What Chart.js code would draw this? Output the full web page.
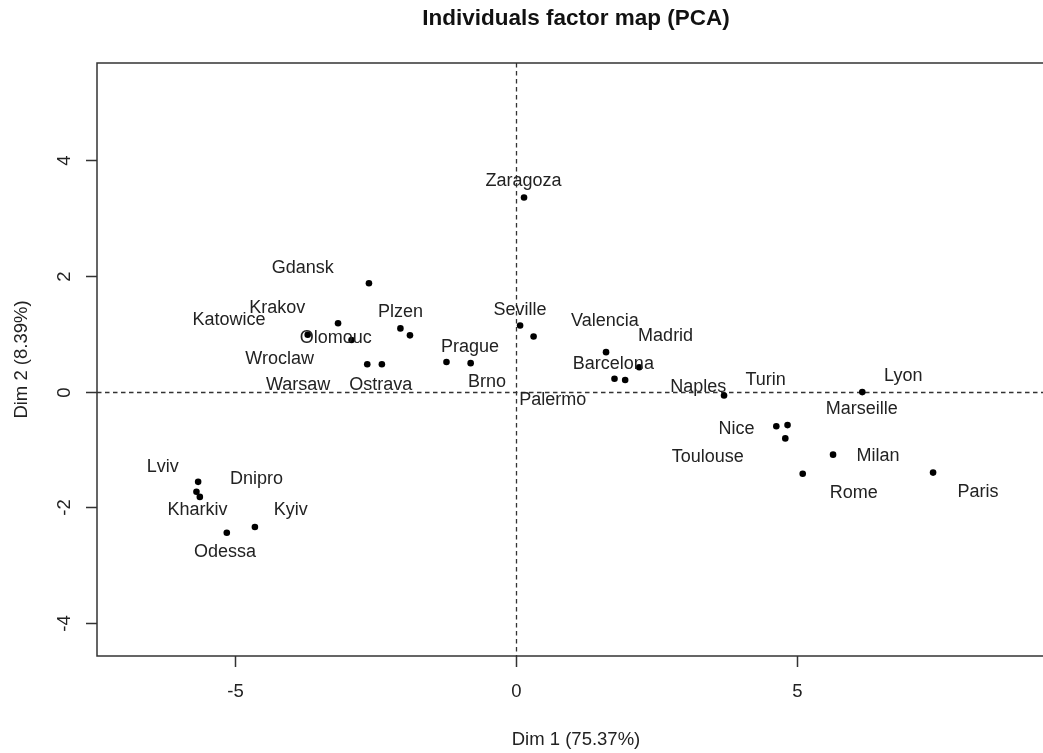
<!DOCTYPE html>
<html>
<head>
<meta charset="utf-8">
<script src="https://cdn.jsdelivr.net/npm/chart.js@4.4.1/dist/chart.umd.min.js"></script>
<style>
  html, body { margin:0; padding:0; background:#fff; overflow:hidden; }
  #wrap { width:1070px; height:753px; }
</style>
</head>
<body>
<div id="wrap"><canvas id="chart1" width="1070" height="753"></canvas></div>
<script>
var ciudades = ["Paris","Lyon","Marseille","Milan","Rome","Naples","Turin","Nice","Toulouse",
  "Zaragoza","Seville","Palermo","Prague","Brno","Valencia","Madrid","Barcelona",
  "Gdansk","Krakov","Katowice","Olomouc","Plzen","Ostrava","Wroclaw","Warsaw",
  "Lviv","Kharkiv","Dnipro","Kyiv","Odessa"];
var dim1 = [7.43, 6.17, 1.95, 5.65, 5.11, 3.71, 4.64, 4.80, 4.84,
  0.15, 0.08, 0.32, -1.23, -0.80, 1.61, 2.20, 1.76,
  -2.61, -3.16, -3.70, -2.92, -2.05, -1.88, -2.64, -2.38,
  -5.65, -5.68, -5.62, -4.64, -5.14];
var dim2 = [-1.40, -0.01, 0.20, -1.09, -1.42, -0.07, -0.60, -0.81, -0.58,
  3.35, 1.14, 0.95, 0.51, 0.49, 0.68, 0.42, 0.22,
  1.87, 1.18, 0.98, 0.89, 1.09, 0.97, 0.47, 0.47,
  -1.56, -1.73, -1.82, -2.34, -2.44];
// where the labels sit (data units)
var etiqX = [8.23, 6.90, 6.16, 6.45, 6.02, 3.25, 4.45, 3.93, 3.42,
  0.14, 0.08, 0.66, -0.81, -0.51, 1.59, 2.67, 1.74,
  -3.79, -4.24, -5.10, -3.20, -2.05, -2.40, -4.20, -3.87,
  -6.28, -5.66, -4.61, -4.00, -5.17];
var etiqY = [-1.73, 0.27, -0.31, -1.11, -1.75, 0.08, 0.19, -0.65, -1.13,
  3.64, 1.41, -0.14, 0.77, 0.17, 1.21, 0.95, 0.48,
  2.13, 1.44, 1.24, 0.92, 1.37, 0.12, 0.56, 0.12,
  -1.30, -2.05, -1.51, -2.05, -2.77];
var ticksX = [-5, 0, 5];
var ticksY = [-4, -2, 0, 2, 4];
var tituloX = "Dim 1 (75.37%)";
var tituloY = "Dim 2 (8.39%)";
var titulo = "Individuals factor map (PCA)";

var fuente = "'Liberation Sans', Arial, sans-serif";

var puntos = [];
for (var i = 0; i < ciudades.length; i++) {
  puntos.push({x: dim1[i], y: dim2[i]});
}

var dibujoExtra = {
  id: "dibujoExtra",
  beforeDatasetsDraw: function(chart) {
    var ctx = chart.ctx, a = chart.chartArea;
    var sx = chart.scales.x, sy = chart.scales.y;
    ctx.save();
    ctx.strokeStyle = "#333";
    ctx.lineWidth = 1.3;
    ctx.setLineDash([4.5, 3.5]);
    var x0 = Math.round(sx.getPixelForValue(0)) + 0.5;
    var y0 = Math.round(sy.getPixelForValue(0)) + 0.5;
    ctx.beginPath();
    ctx.moveTo(a.left, y0); ctx.lineTo(a.right, y0);
    ctx.moveTo(x0, a.top); ctx.lineTo(x0, a.bottom);
    ctx.stroke();
    ctx.restore();
  },
  afterDraw: function(chart) {
    var ctx = chart.ctx, a = chart.chartArea;
    var sx = chart.scales.x, sy = chart.scales.y;
    ctx.save();
    ctx.strokeStyle = "#333";
    ctx.lineWidth = 1.5;
    ctx.strokeRect(a.left, a.top, a.right - a.left, a.bottom - a.top);

    ctx.fillStyle = "#222";
    ctx.font = "18.5px " + fuente;
    ctx.textAlign = "center";
    ctx.textBaseline = "middle";
    ctx.beginPath();
    for (var i = 0; i < ticksX.length; i++) {
      var px = Math.round(sx.getPixelForValue(ticksX[i])) + 0.5;
      ctx.moveTo(px, a.bottom); ctx.lineTo(px, a.bottom + 11);
      ctx.fillText(String(ticksX[i]), px, a.bottom + 36);
    }
    for (var j = 0; j < ticksY.length; j++) {
      var py = Math.round(sy.getPixelForValue(ticksY[j])) + 0.5;
      ctx.moveTo(a.left, py); ctx.lineTo(a.left - 11, py);
      ctx.save();
      ctx.translate(a.left - 32, py);
      ctx.rotate(-Math.PI / 2);
      ctx.fillText(String(ticksY[j]), 0, 0);
      ctx.restore();
    }
    ctx.stroke();

    ctx.fillText(tituloX, (a.left + a.right) / 2, 740);
    ctx.save();
    ctx.translate(22, (a.top + a.bottom) / 2);
    ctx.rotate(-Math.PI / 2);
    ctx.fillText(tituloY, 0, 0);
    ctx.restore();

    ctx.fillStyle = "#111";
    ctx.font = "bold 22.5px " + fuente;
    ctx.fillText(titulo, (a.left + a.right) / 2, 19);

    ctx.fillStyle = "#222";
    ctx.font = "18px " + fuente;
    for (var k = 0; k < ciudades.length; k++) {
      ctx.fillText(ciudades[k], sx.getPixelForValue(etiqX[k]), sy.getPixelForValue(etiqY[k]));
    }
    ctx.restore();
  }
};

var datos = {
  type: "scatter",
  data: {
    datasets: [{
      data: puntos,
      backgroundColor: "#000",
      borderWidth: 0,
      pointRadius: 3.3
    }]
  },
  options: {
    responsive: false,
    animation: false,
    layout: { padding: { left: 97, top: 63, right: 15, bottom: 97 } },
    plugins: { legend: { display: false }, tooltip: { enabled: false } },
    scales: {
      x: { type: "linear", display: false, min: -7.45, max: 9.6 },
      y: { type: "linear", display: false, min: -4.568, max: 5.674 }
    }
  },
  plugins: [dibujoExtra]
};

var canvas = document.getElementById("chart1").getContext("2d");
window.grafico = new Chart(canvas, datos);
</script>
</body>
</html>
